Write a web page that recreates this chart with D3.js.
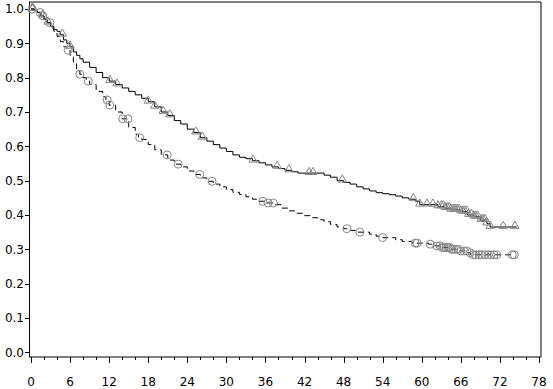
<html>
<head>
<script src="https://d3js.org/d3.v7.min.js"></script>
<style>
  body { margin: 0; background: #fff; }
  text { font-family: "DejaVu Sans", sans-serif; font-size: 12px; fill: #000; }
</style>
</head>
<body>
<script>

// group 1 (solid line, triangle censor marks)
var solidTimes = [0, 0.5, 1, 1.5, 2, 2.5, 3, 3.5, 4, 4.5, 5, 5.5, 6, 6.5, 7, 7.5, 8, 9, 10, 11,
  12, 13, 14, 15, 16, 17, 18, 19, 20, 21, 22, 23, 24, 25, 26, 27, 28, 29, 30, 31,
  32, 33, 34, 35, 36, 37, 38, 39, 40, 41, 45, 46, 47, 48, 49, 50, 51, 52, 53, 54,
  55, 56, 57, 58, 59, 59.7, 62.5, 63.5, 64.5, 66, 67, 68, 69, 70, 70.5, 74.6];
var solidSurv = [1, 0.995, 0.99, 0.98, 0.97, 0.96, 0.95, 0.94, 0.935, 0.925, 0.91, 0.9, 0.89, 0.875, 0.865, 0.855, 0.845, 0.83, 0.815, 0.8,
  0.79, 0.78, 0.77, 0.76, 0.75, 0.74, 0.73, 0.715, 0.7, 0.69, 0.675, 0.665, 0.65, 0.64, 0.625, 0.615, 0.605, 0.595, 0.585, 0.575,
  0.568, 0.564, 0.558, 0.552, 0.546, 0.54, 0.535, 0.53, 0.526, 0.522, 0.516, 0.51, 0.5, 0.495, 0.49, 0.482, 0.476, 0.47, 0.465, 0.462,
  0.459, 0.455, 0.45, 0.446, 0.44, 0.43, 0.425, 0.42, 0.415, 0.41, 0.4, 0.395, 0.385, 0.375, 0.365, 0.365];
var solidCensor = [0.15, 0.3, 1.8, 2.6, 4.8, 6.0, 12.1, 13.2, 18, 19, 20.3, 21.3, 25.3, 26.3, 34.1, 37.8, 39.6,
  42.7, 43.3, 47.8, 58.7, 59.7, 60.8, 61.7, 62.5, 63.0, 63.3, 63.6, 63.9, 64.2, 64.5, 64.8, 65.1, 65.4,
  65.7, 66.0, 66.3, 66.6, 66.9, 67.2, 67.6, 68.0, 68.3, 68.6, 69.1, 69.4, 69.7, 70.0, 70.5, 72.5, 74.3];

// group 2 (dashed line, circle censor marks)
var dashedTimes = [0, 0.5, 1, 1.5, 2, 2.5, 3, 3.5, 4, 4.5, 5, 5.5, 6, 6.5, 7, 7.5, 8, 8.5, 9, 10,
  11, 11.5, 12, 13, 14, 15, 16, 16.5, 17, 18, 19, 20, 21, 22, 23, 24, 25, 26, 27, 28,
  29, 30, 31, 32, 33, 34, 35, 36, 37.5, 38.5, 39.5, 40.5, 42, 43, 44, 45, 46, 47, 48, 49,
  50, 52, 53, 54, 56, 57, 58.5, 61, 62, 63, 64.5, 66, 67, 67.5, 74.2];
var dashedSurv = [1, 0.995, 0.99, 0.98, 0.97, 0.96, 0.945, 0.935, 0.92, 0.905, 0.89, 0.88, 0.865, 0.845, 0.825, 0.81, 0.8, 0.79, 0.78, 0.76,
  0.745, 0.735, 0.72, 0.7, 0.68, 0.655, 0.635, 0.625, 0.62, 0.605, 0.59, 0.575, 0.56, 0.548, 0.54, 0.528, 0.518, 0.508, 0.498, 0.49,
  0.482, 0.474, 0.466, 0.46, 0.453, 0.446, 0.44, 0.435, 0.43, 0.42, 0.412, 0.405, 0.398, 0.392, 0.386, 0.38, 0.372, 0.365, 0.36, 0.355,
  0.35, 0.344, 0.338, 0.334, 0.328, 0.323, 0.318, 0.315, 0.31, 0.305, 0.3, 0.295, 0.29, 0.284, 0.284];
var dashedCensor = [0.15, 1.4, 1.8, 2.9, 5.7, 7.5, 8.8, 11.7, 12.1, 14.1, 14.9, 16.7, 20.9, 22.6, 25.9, 27.8,
  35.6, 36.4, 37.2, 48.5, 50.5, 54.0, 59.0, 59.3, 61.3, 62.3, 62.8, 63.1, 63.4, 63.7, 64.0, 64.3, 64.6,
  64.9, 65.3, 65.6, 66.0, 66.5, 66.9, 67.4, 67.9, 68.3, 68.8, 69.2, 69.7, 70.2, 70.6, 71.1, 71.5, 73.9, 74.2];

var xTickValues = [0, 6, 12, 18, 24, 30, 36, 42, 48, 54, 60, 66, 72, 78];
var xMinorValues = [2, 4, 8, 10, 14, 16, 20, 22, 26, 28, 32, 34, 38, 40, 44, 46, 50, 52, 56, 58, 62, 64, 68, 70, 74, 76];
var yTickValues = [0, 0.1, 0.2, 0.3, 0.4, 0.5, 0.6, 0.7, 0.8, 0.9, 1.0];

var width = 553,
	height = 389;

var box = { left: 29, right: 541, top: 2, bottom: 357 };

var svg = d3.select("body")
	.append("svg")
	.attr("width", width)
	.attr("height", height);

var x = d3.scaleLinear().domain([0, 78]).range([31, 539]);
var y = d3.scaleLinear().domain([0, 1]).range([352.3, 9]);

// frame
svg.append("line")
	.attr("x1", box.left).attr("x2", box.right)
	.attr("y1", box.top).attr("y2", box.top)
	.attr("stroke", "#000");
svg.append("line")
	.attr("x1", box.right).attr("x2", box.right)
	.attr("y1", box.top).attr("y2", box.bottom)
	.attr("stroke", "#000");

// x axis
var xAxis = svg.append("g")
	.attr("transform", "translate(0," + box.bottom + ")");
xAxis.append("line")
	.attr("x1", box.left).attr("x2", box.right)
	.attr("stroke", "#000");
xAxis.selectAll(".minor")
	.data(xMinorValues)
	.enter().append("line")
	.attr("x1", function(d){ return Math.round(x(d)) + 0.5; })
	.attr("x2", function(d){ return Math.round(x(d)) + 0.5; })
	.attr("y1", 0).attr("y2", 3)
	.attr("stroke", "#000");
xAxis.selectAll(".major")
	.data(xTickValues)
	.enter().append("line")
	.attr("x1", function(d){ return Math.round(x(d)) + 0.5; })
	.attr("x2", function(d){ return Math.round(x(d)) + 0.5; })
	.attr("y1", 0).attr("y2", 6)
	.attr("stroke", "#000");
xAxis.selectAll("text")
	.data(xTickValues)
	.enter().append("text")
	.attr("x", function(d){ return x(d); })
	.attr("y", 29)
	.attr("text-anchor", "middle")
	.text(function(d){ return d; });

// y axis
var yAxis = svg.append("g");
yAxis.append("line")
	.attr("x1", box.left + 0.5).attr("x2", box.left + 0.5)
	.attr("y1", box.top).attr("y2", box.bottom)
	.attr("stroke", "#000");
yAxis.selectAll(".tick")
	.data(yTickValues)
	.enter().append("line")
	.attr("x1", box.left - 4).attr("x2", box.left)
	.attr("y1", function(d){ return Math.round(y(d)) + 0.5; })
	.attr("y2", function(d){ return Math.round(y(d)) + 0.5; })
	.attr("stroke", "#000");
yAxis.selectAll("text")
	.data(yTickValues)
	.enter().append("text")
	.attr("x", box.left - 5)
	.attr("y", function(d){ return y(d); })
	.attr("dy", "0.35em")
	.attr("text-anchor", "end")
	.text(function(d){ return d3.format(".1f")(d); });

// curves
var line = d3.line()
	.x(function(d){ return x(d[0]); })
	.y(function(d){ return y(d[1]); })
	.curve(d3.curveStepAfter);

function survAt(times, surv, t){
	var i = d3.bisectRight(times, t) - 1;
	return surv[Math.max(0, i)];
}

function drawCurve(times, surv, dash){
	svg.append("path")
		.datum(d3.zip(times, surv))
		.attr("d", line)
		.attr("fill", "none")
		.attr("stroke", "#000")
		.attr("stroke-width", 1)
		.attr("stroke-dasharray", dash);
}

drawCurve(solidTimes, solidSurv, null);
drawCurve(dashedTimes, dashedSurv, "6,4");

// censor marks
var tri = d3.symbol().type(d3.symbolTriangle).size(30);
svg.append("g").selectAll("path")
	.data(solidCensor)
	.enter().append("path")
	.attr("d", tri)
	.attr("transform", function(d){
		return "translate(" + x(d) + "," + (y(survAt(solidTimes, solidSurv, d)) - 1) + ")";
	})
	.attr("fill", "none")
	.attr("stroke", "#888")
	.attr("stroke-width", 1);

svg.append("g").selectAll("circle")
	.data(dashedCensor)
	.enter().append("circle")
	.attr("cx", function(d){ return x(d); })
	.attr("cy", function(d){ return y(survAt(dashedTimes, dashedSurv, d)); })
	.attr("r", 4)
	.attr("fill", "none")
	.attr("stroke", "#888")
	.attr("stroke-width", 1);

</script>
</body>
</html>
